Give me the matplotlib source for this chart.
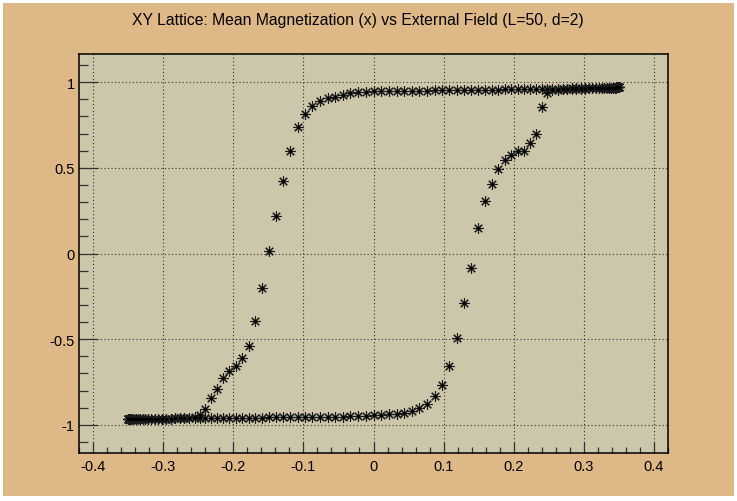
import matplotlib
matplotlib.use("Agg")
import matplotlib.pyplot as plt
from matplotlib.patches import Rectangle
from matplotlib.ticker import MultipleLocator

# External field values (descending sweep, +0.35 -> -0.35)
field_down = [
    0.3500, 0.3498, 0.3493, 0.3484, 0.3472, 0.3457, 0.3438, 0.3416, 0.3390, 0.3361,
    0.3329, 0.3293, 0.3254, 0.3212, 0.3167, 0.3119, 0.3067, 0.3013, 0.2955, 0.2895,
    0.2832, 0.2766, 0.2697, 0.2625, 0.2551, 0.2475, 0.2396, 0.2315, 0.2231, 0.2145,
    0.2057, 0.1967, 0.1875, 0.1782, 0.1686, 0.1589, 0.1490, 0.1390, 0.1288, 0.1186,
    0.1082, 0.0976, 0.0870, 0.0763, 0.0656, 0.0548, 0.0439, 0.0329, 0.0220, 0.0110,
    0.0000,
    -0.0110, -0.0220, -0.0329, -0.0439, -0.0548, -0.0656, -0.0763, -0.0870, -0.0976, -0.1082,
    -0.1186, -0.1288, -0.1390, -0.1490, -0.1589, -0.1686, -0.1782, -0.1875, -0.1967, -0.2057,
    -0.2145, -0.2231, -0.2315, -0.2396, -0.2475, -0.2551, -0.2625, -0.2697, -0.2766, -0.2832,
    -0.2895, -0.2955, -0.3013, -0.3067, -0.3119, -0.3167, -0.3212, -0.3254, -0.3293, -0.3329,
    -0.3361, -0.3390, -0.3416, -0.3438, -0.3457, -0.3472, -0.3484, -0.3493, -0.3498, -0.3500,
]

# Mean magnetization (x) on the descending sweep
mag_down = [
    0.970, 0.970, 0.970, 0.969, 0.969, 0.969, 0.968, 0.968, 0.968, 0.967,
    0.967, 0.967, 0.966, 0.966, 0.965, 0.965, 0.965, 0.964, 0.964, 0.963,
    0.963, 0.962, 0.962, 0.961, 0.961, 0.960, 0.960, 0.959, 0.959, 0.958,
    0.958, 0.957, 0.957, 0.956, 0.956, 0.955, 0.955, 0.954, 0.954, 0.953,
    0.953, 0.952, 0.952, 0.951, 0.951, 0.950, 0.950, 0.949, 0.948, 0.947,
    0.946,
    0.945, 0.942, 0.936, 0.926, 0.913, 0.905, 0.888, 0.863, 0.813, 0.738,
    0.598, 0.423, 0.219, 0.016, -0.200, -0.394, -0.540, -0.612, -0.656, -0.687,
    -0.728, -0.790, -0.846, -0.905, -0.940, -0.955, -0.960, -0.961, -0.962, -0.962,
    -0.963, -0.963, -0.963, -0.964, -0.964, -0.964, -0.965, -0.965, -0.965, -0.966,
    -0.966, -0.966, -0.966, -0.967, -0.967, -0.967, -0.967, -0.968, -0.968, -0.968,
]

# External field values (ascending sweep, -0.35 -> +0.35)
field_up = field_down[::-1]

# Mean magnetization (x) on the ascending sweep
mag_up = [
    -0.968, -0.968, -0.968, -0.967, -0.967, -0.967, -0.967, -0.966, -0.966, -0.966,
    -0.966, -0.965, -0.965, -0.965, -0.964, -0.964, -0.964, -0.963, -0.963, -0.963,
    -0.962, -0.962, -0.962, -0.961, -0.961, -0.961, -0.960, -0.960, -0.959, -0.959,
    -0.959, -0.958, -0.958, -0.957, -0.957, -0.957, -0.956, -0.956, -0.955, -0.955,
    -0.955, -0.954, -0.954, -0.953, -0.953, -0.952, -0.952, -0.951, -0.951, -0.950,
    -0.944,
    -0.944, -0.938, -0.937, -0.930, -0.918, -0.903, -0.876, -0.833, -0.767, -0.654,
    -0.495, -0.287, -0.082, 0.151, 0.307, 0.405, 0.493, 0.543, 0.575, 0.600,
    0.600, 0.642, 0.695, 0.854, 0.934, 0.952, 0.956, 0.958, 0.959, 0.960,
    0.961, 0.962, 0.962, 0.963, 0.963, 0.964, 0.964, 0.965, 0.965, 0.966,
    0.966, 0.967, 0.967, 0.968, 0.968, 0.969, 0.969, 0.969, 0.970, 0.970,
]

title = "XY Lattice: Mean Magnetization (x) vs External Field (L=50, d=2)"
x_ticks = [-0.4, -0.3, -0.2, -0.1, 0, 0.1, 0.2, 0.3, 0.4]
x_ticklabels = ["-0.4", "-0.3", "-0.2", "-0.1", "0", "0.1", "0.2", "0.3", "0.4"]
y_ticks = [-1, -0.5, 0, 0.5, 1]
y_ticklabels = ["-1", "-0.5", "0", "0.5", "1"]

W, H = 737, 502
DPI = 100
plt.rcParams['font.family'] = ['Liberation Sans', 'DejaVu Sans']

fig = plt.figure(figsize=(W / DPI, H / DPI), dpi=DPI, facecolor="white")
fig.patches.append(Rectangle((3 / W, 5 / H), (734 - 3) / W, (498 - 5) / H,
                             transform=fig.transFigure, facecolor="#DEB887",
                             edgecolor="none", zorder=-10))

ax = fig.add_axes([79 / W, 1 - 454 / H, (668 - 79) / W, (454 - 55) / H])
ax.set_facecolor("#CCC7AA")

ms = 7.5
for fx, my in ((field_up, mag_up), (field_down, mag_down)):
    ax.plot(fx, my, linestyle="none", marker=(8, 2, 0), markersize=ms,
            markeredgewidth=0.8, color="#1a1a1a", zorder=3)
    ax.plot(fx, my, linestyle="none", marker="o", markersize=2.2,
            markeredgewidth=0, color="black", zorder=4)

ax.set_xlim(-0.42, 0.42)
ax.set_ylim(-1.164, 1.164)
ax.set_xticks(x_ticks)
ax.set_xticklabels(x_ticklabels)
ax.set_yticks(y_ticks)
ax.set_yticklabels(y_ticklabels)
ax.xaxis.set_minor_locator(MultipleLocator(0.02))
ax.yaxis.set_minor_locator(MultipleLocator(0.1))

ax.tick_params(axis="x", which="major", direction="in", length=8, width=0.9,
               color="#333333", labelsize=10.5, pad=4, labelcolor="black")
ax.tick_params(axis="x", which="minor", direction="in", length=4, width=0.9,
               color="#333333")
ax.tick_params(axis="y", which="major", direction="in", length=14, width=0.9,
               color="#333333", labelsize=10.5, pad=3, labelcolor="black")
ax.tick_params(axis="y", which="minor", direction="in", length=6.5, width=0.9,
               color="#333333")

ax.grid(True, which="major", color="#333333", linestyle=(0, (1, 2.2)),
        linewidth=0.8)
ax.set_axisbelow(True)
for s in ax.spines.values():
    s.set_color("black")
    s.set_linewidth(1.1)

fig.text(358 / W, 1 - 20 / H, title, ha="center", va="center", fontsize=11.3,
         color="black")

fig.savefig("out.png", dpi=DPI, facecolor=fig.get_facecolor())
